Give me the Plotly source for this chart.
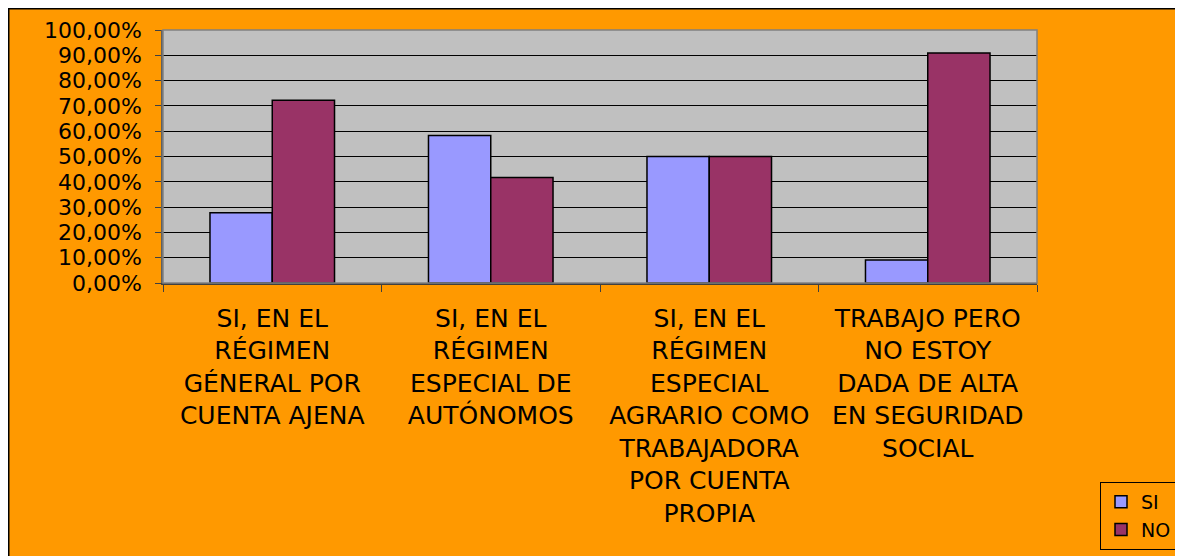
import plotly.graph_objects as go

categories = [
    "SI, EN EL<br>RÉGIMEN<br>GÉNERAL POR<br>CUENTA AJENA",
    "SI, EN EL<br>RÉGIMEN<br>ESPECIAL DE<br>AUTÓNOMOS",
    "SI, EN EL<br>RÉGIMEN<br>ESPECIAL<br>AGRARIO COMO<br>TRABAJADORA<br>POR CUENTA<br>PROPIA",
    "TRABAJO PERO<br>NO ESTOY<br>DADA DE ALTA<br>EN SEGURIDAD<br>SOCIAL",
]
si_values = [0.2778, 0.5833, 0.50, 0.0909]
no_values = [0.7222, 0.4167, 0.50, 0.9091]

# the page body keeps its 8px margin, so the figure fills the rest of the window
W, H = 1175, 548
L, R, T, B = 155, 146, 22, 273
PW, PH = W - L - R, H - T - B


def px_x(x):
    return (x - L) / PW


def px_y(y):
    return (H - B - y) / PH


FONT = "DejaVu Sans"

fig = go.Figure()
fig.add_bar(x=categories, y=si_values, name="SI",
            marker=dict(color="#9999FF", line=dict(color="black", width=1.5)))
fig.add_bar(x=categories, y=no_values, name="NO",
            marker=dict(color="#993366", line=dict(color="black", width=1.5)))

# black frame on top / left edge of the chart area
fig.add_shape(type="line", xref="paper", yref="paper", layer="above",
              x0=px_x(0), x1=px_x(W + 5), y0=px_y(0.75), y1=px_y(0.75),
              line=dict(color="black", width=1.5))
fig.add_shape(type="line", xref="paper", yref="paper", layer="above",
              x0=px_x(0.75), x1=px_x(0.75), y0=px_y(0), y1=px_y(H + 5),
              line=dict(color="black", width=1.5))
# plot area frame
fig.add_shape(type="rect", xref="paper", yref="paper", layer="above",
              x0=0, x1=1, y0=0, y1=1, line=dict(color="#808080", width=1.5))

fig.update_layout(
    width=W, height=H,
    margin=dict(l=L, r=R, t=T, b=B, autoexpand=False),
    paper_bgcolor="#FF9900",
    plot_bgcolor="#C0C0C0",
    separators=",.",
    barmode="group",
    bargap=0.43,
    bargroupgap=0,
    font=dict(family=FONT, color="black"),
    legend=dict(x=px_x(1092), y=px_y(474), xanchor="left", yanchor="top",
                bgcolor="#FF9900", bordercolor="black", borderwidth=1,
                font=dict(size=19, family=FONT), itemwidth=30),
    yaxis=dict(range=[0, 1], dtick=0.1, tickformat=".2%",
               showgrid=True, gridcolor="black", gridwidth=1,
               showline=True, linecolor="#606060", linewidth=1.5,
               ticks="outside", ticklen=6, tickcolor="#404040",
               ticklabelstandoff=9,
               tickfont=dict(size=22, family=FONT), zeroline=False),
    xaxis=dict(showline=True, linecolor="#404040", linewidth=1.5,
               ticks="outside", ticklen=7, tickcolor="#404040",
               tickson="boundaries", showgrid=False, ticklabelstandoff=12,
               tickfont=dict(size=25, family=FONT), tickangle=0),
)

# hide page scrollbars so the chart reaches the window edges
fig.write_html("out.html", post_script="document.body.style.overflow='hidden';")
